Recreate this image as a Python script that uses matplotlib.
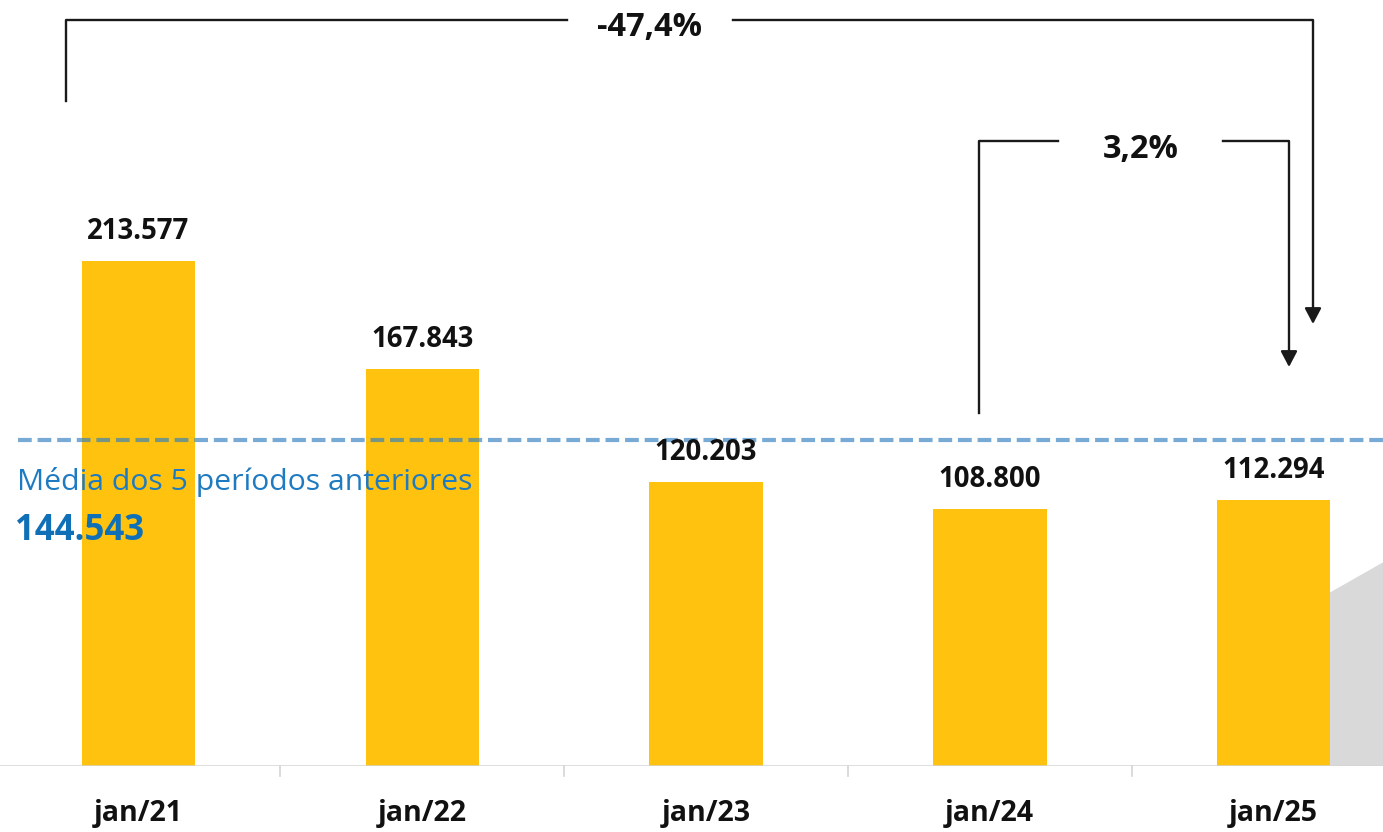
import matplotlib
matplotlib.use("Agg")
import matplotlib.pyplot as plt
from matplotlib.patches import Polygon

# ---- data ----
categories = ["jan/21", "jan/22", "jan/23", "jan/24", "jan/25"]
values = [213577, 167843, 120203, 108800, 112294]
value_labels = ["213.577", "167.843", "120.203", "108.800", "112.294"]
avg_label = "Média dos 5 períodos anteriores"
avg_value_label = "144.543"
avg_line_level = 137800          # visual position of the dashed reference line
gray_area_x = [4, 5]
gray_area_y = [59800, 128000]
pct_long = "-47,4%"
pct_short = "3,2%"

W, H, DPI = 1383, 832, 100
fig = plt.figure(figsize=(W / DPI, H / DPI), dpi=DPI)
base_px = 766
ax = fig.add_axes([0, (H - base_px) / H, 1, base_px / H])
scale = 0.0023645  # px per unit
ymax = base_px / scale
spacing = 283.75
x0px = 138.5
xlim = (-x0px / spacing, (W - x0px) / spacing)
ax.set_xlim(*xlim)
ax.set_ylim(0, ymax)
ax.axis("off")

FONT = "Open Sans"
BAR_C = "#FFC20E"

# gray area behind last bar
gx = [gray_area_x[0], gray_area_x[1], gray_area_x[1], gray_area_x[0]]
gy = [gray_area_y[0], gray_area_y[1], 0, 0]
ax.add_patch(Polygon(list(zip(gx, gy)), closed=True, facecolor="#D9D9D9",
                     edgecolor="none", zorder=1))

xs = list(range(len(categories)))
ax.bar(xs, values, width=0.4, color=BAR_C, zorder=2)


def px_x(p):
    return (p - x0px) / spacing


def px_y(p):
    return (base_px - p) / scale


# value labels
for x, v, lab in zip(xs, values, value_labels):
    ax.text(x, v + 15 / scale, lab, ha="center", va="bottom",
            fontsize=19.8, fontweight="bold", family=FONT, color="#111111", zorder=5)

# x axis line and boundary ticks
ax.axhline(0, color="#D4D4D4", lw=1.8, zorder=3)
for b in [0.5, 1.5, 2.5, 3.5]:
    ax.plot([b, b], [0, -10 / scale], color="#D4D4D4", lw=1.2, clip_on=False, zorder=3)
for x, c in zip(xs, categories):
    ax.text(x, -47 / scale, c, ha="center", va="center", fontsize=20.5,
            fontweight="bold", family=FONT, color="#111111")

# average dashed line
ax.plot([px_x(18), xlim[1]], [avg_line_level, avg_line_level],
        color="#2F7FC0", alpha=0.65, lw=3.0, linestyle=(0, (3.3, 1.4)),
        solid_capstyle="butt", dash_capstyle="butt", zorder=4)
ax.text(px_x(17), px_y(482), avg_label, ha="left",
        va="center", fontsize=21.7, family=FONT, color="#1F7BC1", zorder=5)
ax.text(px_x(15), px_y(531), avg_value_label, ha="left",
        va="center", fontsize=25, fontweight="bold", family=FONT,
        color="#0F70B7", zorder=5)

LC = "#1A1A1A"
LW = 1.7


def bracket(xl, xr, ytop, yl_bottom, yr_tip, gap_l, gap_r, text, ty):
    ax.plot([px_x(xl), px_x(xl), px_x(gap_l)],
            [px_y(yl_bottom), px_y(ytop), px_y(ytop)], color=LC, lw=LW, zorder=6)
    ax.plot([px_x(gap_r), px_x(xr), px_x(xr)],
            [px_y(ytop), px_y(ytop), px_y(yr_tip - 13)], color=LC, lw=LW, zorder=6)
    ax.annotate("", xy=(px_x(xr), px_y(yr_tip)), xytext=(px_x(xr), px_y(yr_tip - 15)),
                arrowprops=dict(arrowstyle="-|>,head_length=0.95,head_width=0.5",
                                color=LC, lw=LW, shrinkA=0, shrinkB=0), zorder=6)
    ax.text(px_x((gap_l + gap_r) / 2), px_y(ty), text, ha="center", va="center",
            fontsize=23.5, fontweight="bold", family=FONT, color="#111111", zorder=6)


bracket(66, 1313, 20, 101, 324, 567, 733, pct_long, 28)
bracket(979, 1289, 141, 413, 367, 1058, 1223, pct_short, 150)

fig.savefig("out.png", dpi=DPI, facecolor="white")
